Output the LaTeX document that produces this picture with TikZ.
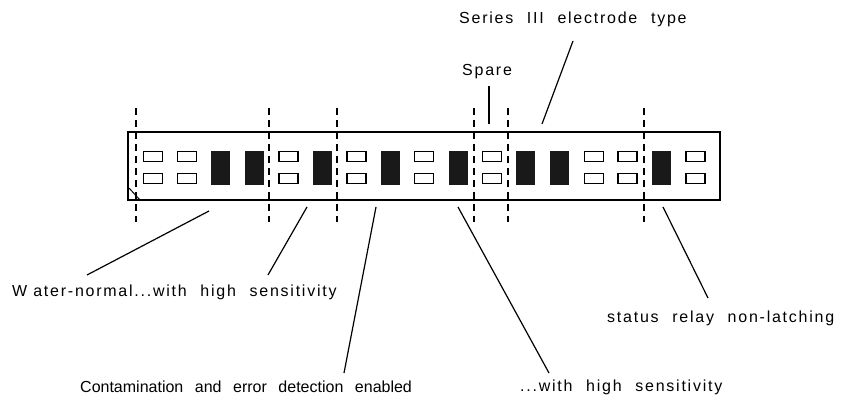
\documentclass[tikz,border=0pt]{standalone}
\usepackage{fontspec}
\setmainfont[LetterSpace=11,WordSpace=2.2]{Liberation Sans}
\newfontfamily\tightfont[WordSpace=2.6]{Liberation Sans}

\begin{document}
\begin{tikzpicture}[x=1pt,y=-1pt,
    sw/.style={draw,line width=1.4pt,minimum width=19pt,minimum height=10pt,inner sep=0pt},
    bar/.style={fill=black!90,minimum width=19pt,minimum height=34pt,inner sep=0pt},
    sep/.style={line width=1.3pt,dash pattern=on 7pt off 5pt},
    lead/.style={line width=1.2pt},
    lbl/.style={anchor=west,inner sep=0pt,font=\fontsize{16}{19}\selectfont}]
    \useasboundingbox (0,0) rectangle (841,403);

    % the switch block
    \draw [line width=1.5pt] (128,132) rectangle (720,200);
    \draw [line width=1pt] (129,188) -- (140,200);

    \foreach \i in {3,4,6,8,10,12,13,16}
      \node [bar] (bar\i) at ({153+33.9*(\i-1)},168) {};
    \foreach \i in {1,2,5,7,9,11,14,15,17} {
      \node [sw] (up\i) at ({153+33.9*(\i-1)},156.5) {};
      \node [sw] (lo\i) at ({153+33.9*(\i-1)},178.5) {};
    }

    \foreach \x in {136,269,337,474,508,644}
      \draw [sep] (\x,108) -- (\x,222);

    % labels
    \node [lbl] (series) at (459,19) {Series III electrode type};
    \node [lbl] (spare) at (462,72) {Spare};
    \node [lbl] (water) at (12,292) {{\spaceskip=6pt W ater}-normal...with high sensitivity};
    \node [lbl] (status) at (607,318) {status relay non-latching};
    \node [lbl,font=\fontsize{16}{19}\tightfont] (contam) at (80,387) {Contamination and error detection enabled};
    \node [lbl] (withhigh) at (520,387) {...with high sensitivity};

    % leader lines
    \coordinate (s1) at (489,124); \coordinate (s2) at (489,86);
    \coordinate (e1) at (542,124); \coordinate (e2) at (573,41);
    \coordinate (w1) at (209,211); \coordinate (w2) at (87,275);
    \coordinate (h1) at (307,207); \coordinate (h2) at (268,275);
    \coordinate (c1) at (376,207); \coordinate (c2) at (344,373);
    \coordinate (k1) at (458,207); \coordinate (k2) at (549,373);
    \coordinate (r1) at (663,207); \coordinate (r2) at (708,298);

    \draw [lead] (s1) -- (s2);
    \draw [lead] (e1) -- (e2);
    \draw [lead] (w1) -- (w2);
    \draw [lead] (h1) -- (h2);
    \draw [lead] (c1) -- (c2);
    \draw [lead] (k1) -- (k2);
    \draw [lead] (r1) -- (r2);
\end{tikzpicture}
\end{document}
